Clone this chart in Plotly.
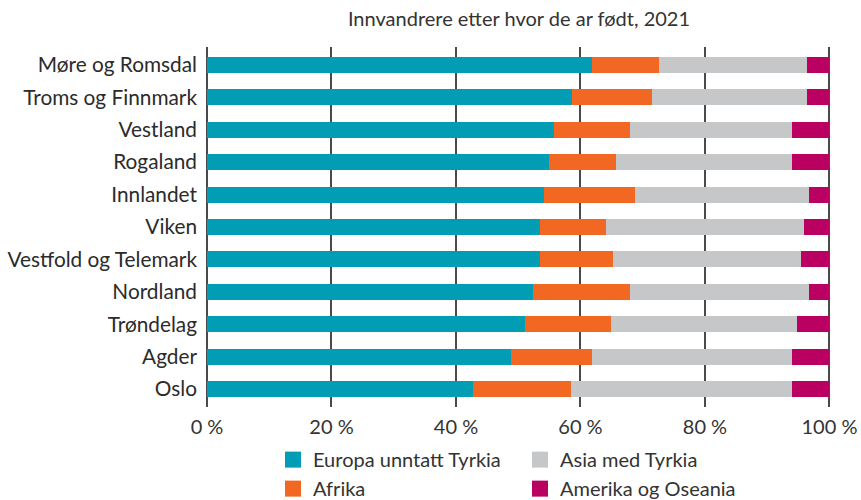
import plotly.graph_objects as go

regions = ["Møre og Romsdal", "Troms og Finnmark", "Vestland", "Rogaland", "Innlandet",
           "Viken", "Vestfold og Telemark", "Nordland", "Trøndelag", "Agder", "Oslo"]
europa = [61.8, 58.7, 55.7, 54.9, 54.2, 53.5, 53.5, 52.3, 51.1, 48.8, 42.8]
afrika = [10.8, 12.8, 12.3, 10.8, 14.6, 10.6, 11.7, 15.7, 13.8, 13.1, 15.7]
asia = [23.8, 24.9, 26.0, 28.3, 27.9, 31.8, 30.3, 28.7, 29.9, 32.1, 35.5]
amerika = [3.6, 3.6, 6.0, 6.0, 3.3, 4.1, 4.5, 3.3, 5.2, 6.0, 6.0]
tick_vals = [0, 20, 40, 60, 80, 100]
tick_text = ["0 %", "20 %", "40 %", "60 %", "80 %", "100 %"]

series = [
    ("Europa unntatt Tyrkia", europa, "#009DB5", "legend"),
    ("Afrika", afrika, "#F26722", "legend"),
    ("Asia med Tyrkia", asia, "#C6C7C9", "legend2"),
    ("Amerika og Oseania", amerika, "#BA0061", "legend2"),
]

FONT = "Lato"
fig = go.Figure()
for name, vals, color, leg in series:
    fig.add_trace(go.Bar(
        y=regions, x=vals, name=name, orientation="h",
        marker=dict(color=color, line=dict(width=0)),
        width=0.49, showlegend=False, hoverinfo="x+y+name",
    ))
# legend-only entries with larger square swatches
for name, vals, color, leg in series:
    fig.add_trace(go.Scatter(
        x=[None], y=[None], mode="markers", name=name, legend=leg,
        marker=dict(symbol="square", size=16, color=color),
        showlegend=True,
    ))

legend_common = dict(orientation="v", yanchor="top", y=-0.092, xanchor="left",
                     traceorder="normal",
                     font=dict(family=FONT, size=20, color="#333333"),
                     itemwidth=30, bgcolor="rgba(0,0,0,0)", tracegroupgap=0)

fig.update_layout(
    barmode="stack",
    width=861, height=500,
    margin=dict(l=207, r=30, t=47, b=93, autoexpand=False),
    paper_bgcolor="white", plot_bgcolor="white",
    font=dict(family=FONT, size=20, color="#2b2b2b"),
    title=dict(text="Innvandrere etter hvor de ar født, 2021", x=(207 + 831) / 2 / 861,
               xanchor="center", y=1 - 19 / 500, yanchor="middle",
               font=dict(family=FONT, size=20, color="#333333")),
    xaxis=dict(range=[0, 100.25], tickvals=tick_vals, ticktext=tick_text,
               showgrid=True, gridcolor="#4a4a4a", gridwidth=1.5,
               zeroline=True, zerolinecolor="#4a4a4a", zerolinewidth=1.5,
               showline=False, ticks="", ticklabelstandoff=6, automargin=False,
               tickfont=dict(family=FONT, size=20, color="#333333"), fixedrange=True),
    yaxis=dict(categoryorder="array", categoryarray=regions,
               range=[10.55, -0.55], showgrid=False, zeroline=False,
               ticks="", ticklabelstandoff=9, automargin=False,
               tickfont=dict(family=FONT, size=20.8, color="#2b2b2b")),
    legend=dict(x=(273 - 207) / 624, **legend_common),
    legend2=dict(x=(520 - 207) / 624, **legend_common),
)

fig.write_html("out.html", config={"displayModeBar": False},
               post_script="document.body.style.margin='0';")
